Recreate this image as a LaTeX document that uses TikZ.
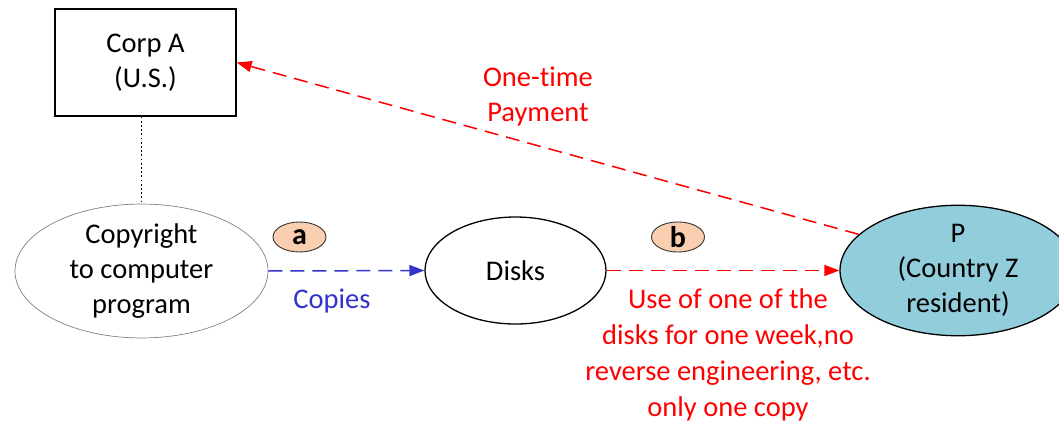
\documentclass[tikz,border=0pt]{standalone}
\usepackage{fontspec}
\setmainfont[Ligatures={NoCommon}]{Carlito}
\usetikzlibrary{shapes.geometric,arrows.meta}
\definecolor{pfill}{RGB}{146,205,220}
\definecolor{badgefill}{RGB}{249,207,175}
\definecolor{copyblue}{RGB}{51,51,204}
\definecolor{payred}{RGB}{255,0,0}
\tikzset{
  txt/.style={font=\fontsize{28.5}{35}\selectfont, align=center, inner sep=0pt},
  ell/.style={ellipse, draw, line width=1.3pt, inner sep=0pt, txt},
  badge/.style={ellipse, draw=black!80, line width=0.9pt, fill=badgefill, minimum width=53pt, minimum height=30pt, inner sep=0pt, font=\fontsize{30}{32}\selectfont\bfseries},
  redarrow/.style={draw=payred, line width=1.5pt, dash pattern=on 14pt off 8pt, -{Triangle[length=15pt,width=11pt]}},
  bluearrow/.style={draw=copyblue, line width=1.5pt, dash pattern=on 14pt off 8pt, -{Triangle[length=15pt,width=11pt]}},
}
\begin{document}
\begin{tikzpicture}[x=1pt,y=-1pt]
\useasboundingbox (0,0) rectangle (1059,423);
\node[draw, line width=1.3pt, minimum width=181pt, minimum height=107pt, txt] (corpA) at (145.5,62.5) {Corp A\\(U.S.)};
\node[ellipse, draw=gray, line width=0.7pt, minimum width=253pt, minimum height=122pt, inner sep=0pt, txt] (copy) at (141.5,271) {Copyright\\to computer\\program};
\node[ell, minimum width=181pt, minimum height=107pt] (disks) at (515.5,270.5) {Disks};
\node[ell, fill=pfill, minimum width=236pt, minimum height=125pt] (P) at (958,270.5) {P\\(Country Z\\resident)};
\node[badge] (a) at (299.5,237) {a};
\node[badge] (b) at (678,237) {b};
\draw[line width=1.6pt, dash pattern=on 1.8pt off 2.4pt] (corpA.south -| copy.north) -- (copy.north);
\draw[bluearrow] (copy.east) -- (disks.west);
\draw[redarrow] (disks.east) -- (P.west);
\draw[redarrow] (P.160) -- (corpA.east);
\node[txt, text=copyblue] (copies) at (332,301) {Copies};
\node[txt, text=payred] (pay) at (538,96) {One-time\\Payment};
\node[txt, text=payred, font=\fontsize{28.5}{36}\selectfont] (use) at (728,355) {Use of one of the\\disks for one week,no\\reverse engineering, etc.\\only one copy};
\end{tikzpicture}
\end{document}
